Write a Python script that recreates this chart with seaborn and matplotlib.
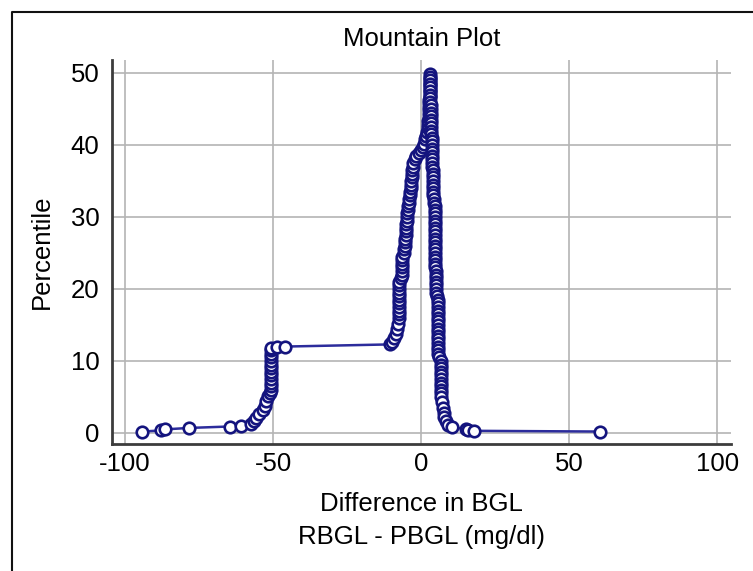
import numpy as np
import pandas as pd
import matplotlib
matplotlib.use("Agg")
import matplotlib.pyplot as plt
from matplotlib.lines import Line2D
from matplotlib.ticker import MultipleLocator
import seaborn as sns

# Mountain plot values (difference in mg/dl, folded percentile)
# rising side, from the lowest difference up to the peak
left_diff = [
    -94.4, -87.7, -86.6, -78.4, -64.7, -60.7,
    -57.4, -56.5, -55.7, -54.8, -53.4, -52.8, -52.3, -51.6, -51.0,
    -50.6, -50.6, -50.6, -50.6, -50.6, -50.6, -50.6, -50.6, -50.6, -50.6, -50.6, -50.6, -50.6,
    -48.7, -46.1,
    -10.6, -9.8, -9.2, -8.6, -8.2, -7.8, -7.4,
    -7.3, -7.3, -7.3, -7.3, -7.3, -7.3, -7.3, -7.3, -7.3, -7.3,
    -6.8, -6.4, -6.3, -6.3, -6.3, -6.3, -6.3,
    -5.9, -5.6, -5.5, -5.4, -5.3, -5.2, -5.1, -5.0, -5.0, -4.9,
    -4.8, -4.6, -4.5, -4.3, -4.1, -4.0, -3.8, -3.6, -3.5, -3.4,
    -3.3, -3.2, -3.1, -3.0, -2.8, -2.6, -2.2, -1.6, -0.8, 0.0,
    0.6, 1.1, 1.4, 1.7, 2.0, 2.2, 2.4, 2.5, 2.6, 2.7,
    2.7, 2.8, 2.8, 2.8, 2.9, 2.9, 2.9, 2.9, 2.9, 2.9, 2.9,
]
left_pct = [
    0.2, 0.35, 0.5, 0.7, 0.9, 1.0,
    1.2, 1.6, 2.1, 2.6, 3.2, 3.8, 4.5, 5.1, 5.6,
    6.0, 6.5, 7.0, 7.5, 8.0, 8.5, 9.0, 9.5, 10.0, 10.5, 11.0, 11.5, 11.8,
    11.9, 12.0,
    12.3, 12.7, 13.2, 13.8, 14.5, 15.2, 15.9,
    16.5, 17.0, 17.5, 18.0, 18.5, 19.0, 19.5, 20.0, 20.5, 21.0,
    21.5, 22.0, 22.5, 23.0, 23.5, 24.0, 24.5,
    25.0, 25.5, 26.0, 26.5, 27.0, 27.5, 28.0, 28.5, 29.0, 29.5,
    30.0, 30.5, 31.0, 31.5, 32.0, 32.5, 33.0, 33.5, 34.0, 34.5,
    35.0, 35.5, 36.0, 36.5, 37.0, 37.5, 38.0, 38.5, 38.9, 39.3,
    39.7, 40.2, 40.8, 41.3, 41.8, 42.3, 42.8, 43.3, 43.8, 44.3,
    44.8, 45.3, 45.8, 46.3, 46.8, 47.3, 47.8, 48.3, 48.8, 49.3, 49.8,
]

# falling side, from the peak down to the highest difference
right_diff = [
    3.0, 3.0, 3.0, 3.0, 3.1, 3.1, 3.1, 3.1, 3.2, 3.2,
    3.2, 3.2, 3.3, 3.3, 3.3, 3.4, 3.5, 3.6, 3.6, 3.7,
    3.7, 3.7, 3.8, 3.8, 3.8, 3.8, 3.9, 3.9, 3.9, 3.9,
    3.9, 4.0, 4.0, 4.1, 4.3, 4.5, 4.6, 4.6, 4.7, 4.7,
    4.7, 4.7, 4.7, 4.8, 4.8, 4.8, 4.8, 4.8, 4.8, 4.8,
    4.8, 4.8, 4.8, 4.8, 4.9, 4.9, 4.9, 4.9, 4.9, 4.9,
    5.2, 5.5, 5.6, 5.6, 5.6, 5.7, 5.7, 5.7, 5.7, 5.7,
    5.7, 5.7, 5.8, 5.8, 5.8, 5.8, 5.8, 5.8, 6.2, 6.6,
    6.7, 6.7, 6.7, 6.8, 6.8, 6.8, 6.8, 6.8, 6.9, 6.9,
    7.1, 7.3, 7.6, 7.9, 8.4, 9.0, 10.4, 15.3, 16.0, 18.0, 60.3,
]
right_pct = [
    49.5, 49.0, 48.5, 48.0, 47.5, 47.0, 46.5, 46.0, 45.5, 45.0,
    44.5, 44.0, 43.5, 43.0, 42.5, 42.0, 41.5, 41.0, 40.5, 40.0,
    39.5, 39.0, 38.5, 38.0, 37.5, 37.0, 36.5, 36.0, 35.5, 35.0,
    34.5, 34.0, 33.5, 33.0, 32.5, 32.0, 31.5, 31.0, 30.5, 30.0,
    29.5, 29.0, 28.5, 28.0, 27.5, 27.0, 26.5, 26.0, 25.5, 25.0,
    24.5, 24.0, 23.5, 23.0, 22.5, 22.0, 21.5, 21.0, 20.5, 20.0,
    19.5, 19.0, 18.5, 18.0, 17.5, 17.0, 16.5, 16.0, 15.5, 15.0,
    14.5, 14.0, 13.5, 13.0, 12.5, 12.0, 11.5, 11.0, 10.5, 10.0,
    9.5, 9.0, 8.5, 8.0, 7.5, 7.0, 6.5, 6.0, 5.5, 5.0,
    4.3, 3.5, 2.8, 2.2, 1.6, 1.1, 0.8, 0.55, 0.45, 0.3, 0.2,
]

x_ticks = [-100, -50, 0, 50, 100]
y_ticks = [0, 10, 20, 30, 40, 50]

df = pd.DataFrame({
    "diff": left_diff + right_diff,
    "pct": left_pct + right_pct,
})

sns.set_style("white")
plt.rcParams["font.family"] = ["Liberation Sans", "DejaVu Sans"]
plt.rcParams["text.color"] = "black"
plt.rcParams["axes.labelcolor"] = "black"

fig = plt.figure(figsize=(7.53, 5.71), dpi=100)
ax = fig.add_axes([112 / 753, 1 - 444 / 571, (731 - 112) / 753, (444 - 60) / 571])

sns.lineplot(
    data=df, x="diff", y="pct", ax=ax,
    sort=False, estimator=None,
    color="#2c2c9c", linewidth=1.8,
    marker="o", markersize=8.3, markerfacecolor="white",
    markeredgecolor="#14147e", markeredgewidth=1.9,
)

ax.set_xlim(-104.4, 104.7)
ax.set_ylim(-1.53, 51.8)
ax.set_xticks(x_ticks)
ax.set_yticks(y_ticks)
ax.set_xticklabels([str(t) for t in x_ticks])
ax.yaxis.set_minor_locator(MultipleLocator(5))

ax.set_axisbelow(True)
ax.grid(True, which="major", color="#b4b4b4", linewidth=1.2)

for side in ["top", "right"]:
    ax.spines[side].set_visible(False)
for side in ["left", "bottom"]:
    ax.spines[side].set_color("#3c3c3c")
    ax.spines[side].set_linewidth(2)

ax.tick_params(axis="both", which="major", direction="in", length=9, width=2,
               color="#3c3c3c", labelsize=18.5, labelcolor="black")
ax.tick_params(axis="x", which="major", pad=6)
ax.tick_params(axis="y", which="major", pad=9)
ax.tick_params(axis="y", which="minor", direction="in", length=4, width=1,
               color="#3c3c3c")

ax.set_title("Mountain Plot", fontsize=18.5, pad=10, color="black")
ax.set_xlabel("Difference in BGL\nRBGL - PBGL (mg/dl)", fontsize=18.5,
              linespacing=1.5, labelpad=11, color="black")
ax.set_ylabel("Percentile", fontsize=18.5, labelpad=12, color="black")

# frame of the exported picture, only its top-left corner is in view
fig.add_artist(Line2D([12 / 753, 12 / 753, 1.0], [0.0, 1 - 12 / 571, 1 - 12 / 571],
                      transform=fig.transFigure, color="#111111", linewidth=1.5))

fig.savefig("out.png", dpi=100)
